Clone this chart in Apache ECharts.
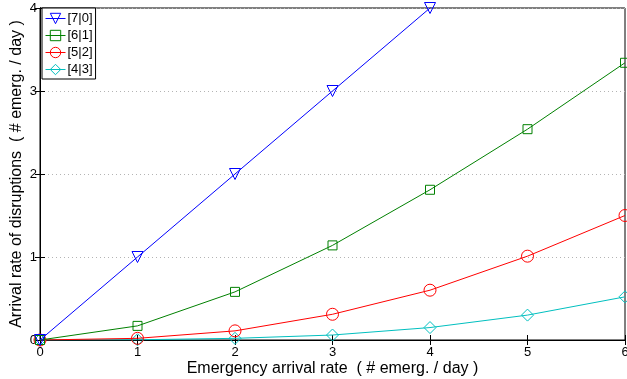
<!DOCTYPE html>
<html>
<head>
<meta charset="utf-8">
<script src="https://cdn.jsdelivr.net/npm/echarts@6/dist/echarts.min.js"></script>
<style>
  html, body { margin: 0; padding: 0; background: #fff; }
  #main { width: 627px; height: 379px; }
</style>
</head>
<body>
<div id="main"></div>
<script>
// 数据
var xTicks = [0, 1, 2, 3, 4, 5, 6];
var names = ['[7|0]', '[6|1]', '[5|2]', '[4|3]'];
var s70 = [0, 1, 2, 3, 4, 5, 6];
var s61 = [0, 0.17, 0.58, 1.14, 1.81, 2.54, 3.34];
var s52 = [0, 0.02, 0.11, 0.31, 0.60, 1.01, 1.50];
var s43 = [0, 0.003, 0.02, 0.06, 0.15, 0.30, 0.52];
var colors = ['#0000ff', '#008000', '#ff0000', '#00bfbf'];
var symbols = ['triangle', 'rect', 'circle', 'diamond'];
var rotates = [180, 0, 0, 0];
var sizes = [11, 9, 12, 12];
var values = [s70, s61, s52, s43];

var font = 'Liberation Sans, Arial, sans-serif';
var myChart = echarts.init(document.getElementById('main'));

var series = [];
for (var i = 0; i < names.length; i++) {
	var pts = [];
	for (var j = 0; j < xTicks.length; j++) {
		pts.push([xTicks[j], values[i][j]]);
	}
	series.push({
		name: names[i],
		type: 'line',
		data: pts,
		symbol: symbols[i],
		symbolRotate: rotates[i],
		symbolSize: sizes[i],
		clip: true,
		z: 10 - i,
		lineStyle: { color: colors[i], width: 1 },
		itemStyle: { color: 'rgba(255,255,255,0)', borderColor: colors[i], borderWidth: 1 },
		emphasis: { disabled: true },
		animation: false
	});
}

var option = {
	backgroundColor: '#fff',
	grid: {
		left: 40, right: 2, top: 8, bottom: 39,
		outerBoundsMode: 'none',
		show: true, borderColor: '#000', borderWidth: 1
	},
	legend: {
		left: 42, top: 8,
		orient: 'vertical',
		backgroundColor: '#fff',
		borderColor: '#000', borderWidth: 1,
		padding: [4, 3, 3, 3],
		itemGap: 4, itemWidth: 20, itemHeight: 13,
		lineStyle: { width: 1 },
		itemStyle: { borderWidth: 1 },
		textStyle: { fontFamily: font, fontSize: 13, color: '#000', padding: [0, 0, 0, -3] },
		data: names
	},
	xAxis: [{
		type: 'value', min: 0, max: 6, interval: 1,
		name: 'Emergency arrival rate  ( # emerg. / day )',
		nameLocation: 'middle', nameGap: 21, nameMoveOverlap: false,
		nameTextStyle: { fontFamily: font, fontSize: 16, color: '#000' },
		axisLine: { show: true, lineStyle: { color: '#000', width: 1 } },
		axisTick: { show: true, inside: true, length: 5, lineStyle: { color: '#000' } },
		axisLabel: { fontFamily: font, fontSize: 13, color: '#000', margin: 6 },
		splitLine: { show: false }
	}, {
		type: 'value', min: 0, max: 6, interval: 1, position: 'top',
		axisLine: { show: true, lineStyle: { color: '#000' } },
		axisTick: { show: true, inside: true, length: 5, lineStyle: { color: '#000' } },
		axisLabel: { show: false },
		splitLine: { show: false }
	}],
	yAxis: [{
		type: 'value', min: 0, max: 4, interval: 1,
		name: 'Arrival rate of disruptions  ( # emerg. / day )',
		nameLocation: 'middle', nameGap: 15, nameMoveOverlap: false,
		nameTextStyle: { fontFamily: font, fontSize: 16, color: '#000' },
		axisLine: { show: true, lineStyle: { color: '#000', width: 1 } },
		axisTick: { show: true, inside: true, length: 5, lineStyle: { color: '#000' } },
		axisLabel: { fontFamily: font, fontSize: 13, color: '#000', margin: 3 },
		splitLine: { show: true, lineStyle: { color: '#b4b4b4', type: [1, 3], width: 1 } }
	}, {
		type: 'value', min: 0, max: 4, interval: 1, position: 'right',
		axisLine: { show: true, lineStyle: { color: '#000' } },
		axisTick: { show: true, inside: true, length: 5, lineStyle: { color: '#000' } },
		axisLabel: { show: false },
		splitLine: { show: false }
	}],
	series: series
};
myChart.setOption(option);
</script>
</body>
</html>
